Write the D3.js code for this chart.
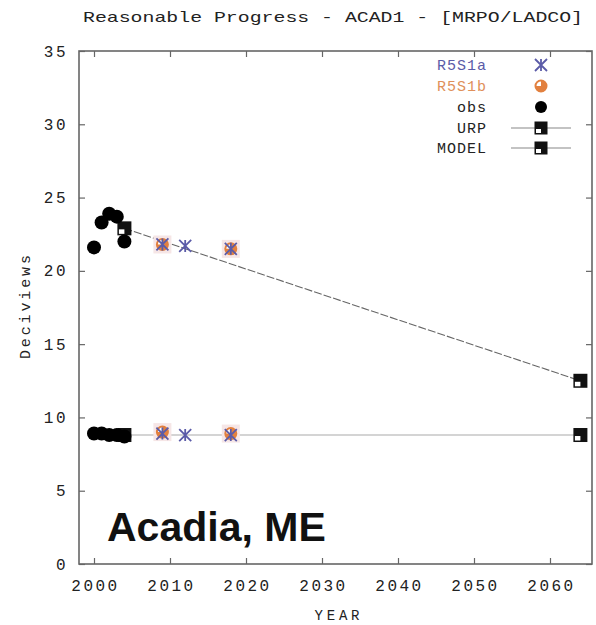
<!DOCTYPE html>
<html><head><meta charset="utf-8">
<script src="https://cdn.jsdelivr.net/npm/d3@7"></script>
<style>
body{margin:0;background:#fff;}
svg{display:block;}
.mono{font-family:"Liberation Mono","DejaVu Sans Mono",monospace;}
</style></head>
<body><svg id="chart" width="596" height="625"></svg>
<script>
const title = "Reasonable Progress - ACAD1 - [MRPO/LADCO]";
const xTicks = [2000, 2010, 2020, 2030, 2040, 2050, 2060];
const yTicks = [0, 5, 10, 15, 20, 25, 30, 35];
const obsYears = [2000, 2001, 2002, 2003, 2004];
const obsWorst = [21.6, 23.3, 23.9, 23.7, 22.0];
const obsBest = [8.9, 8.9, 8.8, 8.8, 8.7];
const urpYears = [2004, 2064];
const urpValues = [22.9, 12.5];
const modelYears = [2004, 2064];
const modelValues = [8.8, 8.8];
const rss1aYears = [2009, 2012, 2018];
const rss1aWorst = [21.8, 21.7, 21.5];
const rss1aBest = [8.9, 8.8, 8.8];
const rss1bYears = [2009, 2018];
const rss1bWorst = [21.8, 21.5];
const rss1bBest = [9.0, 8.9];
const legendLabels = ["R5S1a", "R5S1b", "obs", "URP", "MODEL"];

const svg = d3.select("#chart");
const box = {l: 79, r: 592, t: 51, b: 564};
const x = d3.scaleLinear().domain([2000, 2060]).range([94, 550]);
const y = d3.scaleLinear().domain([0, 35]).range([564, 51]);
const blue = "#5b5ba8", orange = "#e2803f";

// title
svg.append("text").attr("class","mono").attr("x",333).attr("y",22)
  .attr("text-anchor","middle").attr("font-size",15).attr("fill","#222")
  .attr("textLength",500).attr("lengthAdjust","spacingAndGlyphs").text(title);

// frame
svg.append("rect").attr("x",box.l).attr("y",box.t).attr("width",box.r-box.l).attr("height",box.b-box.t)
  .attr("fill","none").attr("stroke","#666").attr("stroke-width",1.6);

// axes (inward ticks, mirrored)
const gB = svg.append("g").attr("transform",`translate(0,${box.b})`)
  .call(d3.axisBottom(x).tickValues(xTicks).tickSizeInner(-6).tickSizeOuter(0).tickPadding(13).tickFormat(d3.format("d")));
const gT = svg.append("g").attr("transform",`translate(0,${box.t})`)
  .call(d3.axisTop(x).tickValues(xTicks).tickSizeInner(-6).tickSizeOuter(0).tickFormat(""));
const gL = svg.append("g").attr("transform",`translate(${box.l},0)`)
  .call(d3.axisLeft(y).tickValues(yTicks).tickSizeInner(-6).tickSizeOuter(0).tickPadding(13));
const gR = svg.append("g").attr("transform",`translate(${box.r},0)`)
  .call(d3.axisRight(y).tickValues(yTicks).tickSizeInner(-6).tickSizeOuter(0).tickFormat(""));
[gB,gT,gL,gR].forEach(g=>{
  g.select(".domain").remove();
  g.selectAll(".tick line").attr("stroke","#666").attr("stroke-width",1.2);
  g.selectAll(".tick text").attr("class","mono").attr("font-size",16).attr("fill","#222")
   .attr("letter-spacing","2.5px");
});
gB.selectAll(".tick text").attr("dy","0.9em").attr("dx","1px");
gL.selectAll(".tick text").attr("dx","2px");

// axis labels
svg.append("text").attr("class","mono").attr("x",337).attr("y",620).attr("text-anchor","middle")
  .attr("font-size",14).attr("fill","#222").attr("textLength",45).text("YEAR");
svg.append("text").attr("class","mono").attr("transform","translate(30,307) rotate(-90)")
  .attr("text-anchor","middle").attr("font-size",15).attr("fill","#222").attr("textLength",104).text("Deciviews");

// lines
const line = d3.line().x(d=>x(d[0])).y(d=>y(d[1]));
svg.append("path").datum(d3.zip(urpYears,urpValues)).attr("d",line)
  .attr("fill","none").attr("stroke","#666").attr("stroke-width",1.1).attr("stroke-dasharray","8,2");
svg.append("path").datum(d3.zip(modelYears,modelValues)).attr("d",line)
  .attr("fill","none").attr("stroke","#aaa").attr("stroke-width",1.2);

// square symbol
function square(g, cx, cy, s){
  g.append("rect").attr("x",cx-s/2).attr("y",cy-s/2).attr("width",s).attr("height",s).attr("fill","#111");
  g.append("rect").attr("x",cx-s/2+1.5).attr("y",cy+1).attr("width",s/2-1.5).attr("height",s/2-2.5).attr("fill","#fff");
}
const sq = svg.append("g");
d3.zip(urpYears,urpValues).forEach(d=>square(sq, x(d[0]), y(d[1]), 14));
d3.zip(modelYears,modelValues).forEach(d=>square(sq, x(d[0]), y(d[1]), 14));

// obs
const obsPts = d3.zip(obsYears,obsWorst).concat(d3.zip(obsYears,obsBest));
svg.append("g").selectAll("circle").data(obsPts).join("circle")
  .attr("cx",d=>x(d[0])).attr("cy",d=>y(d[1])).attr("r",7).attr("fill","#000");

// RSS1b (orange circle w/ pinkish halo)
function rssB(g, cx, cy){
  g.append("rect").attr("x",cx-9).attr("y",cy-9).attr("width",18).attr("height",18).attr("fill","#f6e6e6");
  g.append("circle").attr("cx",cx).attr("cy",cy).attr("r",5.5).attr("fill","#fff").attr("stroke",orange).attr("stroke-width",2);
  g.append("path").attr("d",d3.arc()({innerRadius:0,outerRadius:5.5,startAngle:0,endAngle:Math.PI*1.5}))
    .attr("transform",`translate(${cx},${cy})`).attr("fill",orange);
}
const gb = svg.append("g");
d3.zip(rss1bYears,rss1bWorst).concat(d3.zip(rss1bYears,rss1bBest)).forEach(d=>rssB(gb,x(d[0]),y(d[1])));

// RSS1a (blue x / asterisk)
function rssA(g, cx, cy){
  const s=6;
  g.append("path").attr("d",`M${cx-s},${cy-s}L${cx+s},${cy+s}M${cx-s},${cy+s}L${cx+s},${cy-s}M${cx},${cy-s}L${cx},${cy+s}`)
    .attr("stroke",blue).attr("stroke-width",1.8).attr("fill","none");
}
const ga = svg.append("g");
d3.zip(rss1aYears,rss1aWorst).concat(d3.zip(rss1aYears,rss1aBest)).forEach(d=>rssA(ga,x(d[0]),y(d[1])));

// legend
const lg = svg.append("g");
const rowsY = [65, 86, 107, 128, 148];
const lcol = [blue, "#e0905a", "#222", "#222", "#222"];
legendLabels.forEach((t,i)=>{
  lg.append("text").attr("class","mono").attr("x",487).attr("y",rowsY[i]).attr("dy","0.35em")
    .attr("text-anchor","end").attr("font-size",15).attr("fill",lcol[i]).attr("letter-spacing","1px").text(t);
});
const sx = 541;
rssA(lg, sx, rowsY[0]);
lg.append("circle").attr("cx",sx).attr("cy",rowsY[1]).attr("r",5.5).attr("fill","#fff").attr("stroke",orange).attr("stroke-width",2);
lg.append("path").attr("d",d3.arc()({innerRadius:0,outerRadius:5.5,startAngle:0,endAngle:Math.PI*1.5}))
  .attr("transform",`translate(${sx},${rowsY[1]})`).attr("fill",orange);
lg.append("circle").attr("cx",sx).attr("cy",rowsY[2]).attr("r",6).attr("fill","#000");
[3,4].forEach(i=>{
  lg.append("line").attr("x1",511).attr("x2",571).attr("y1",rowsY[i]).attr("y2",rowsY[i]).attr("stroke","#888").attr("stroke-width",1.1);
  square(lg, sx, rowsY[i], 13);
});

// site label
svg.append("text").attr("x",107).attr("y",541).attr("font-family","'Liberation Sans',Arial,sans-serif")
  .attr("font-weight","bold").attr("font-size",41).attr("fill","#111").text("Acadia, ME");
</script></body></html>
